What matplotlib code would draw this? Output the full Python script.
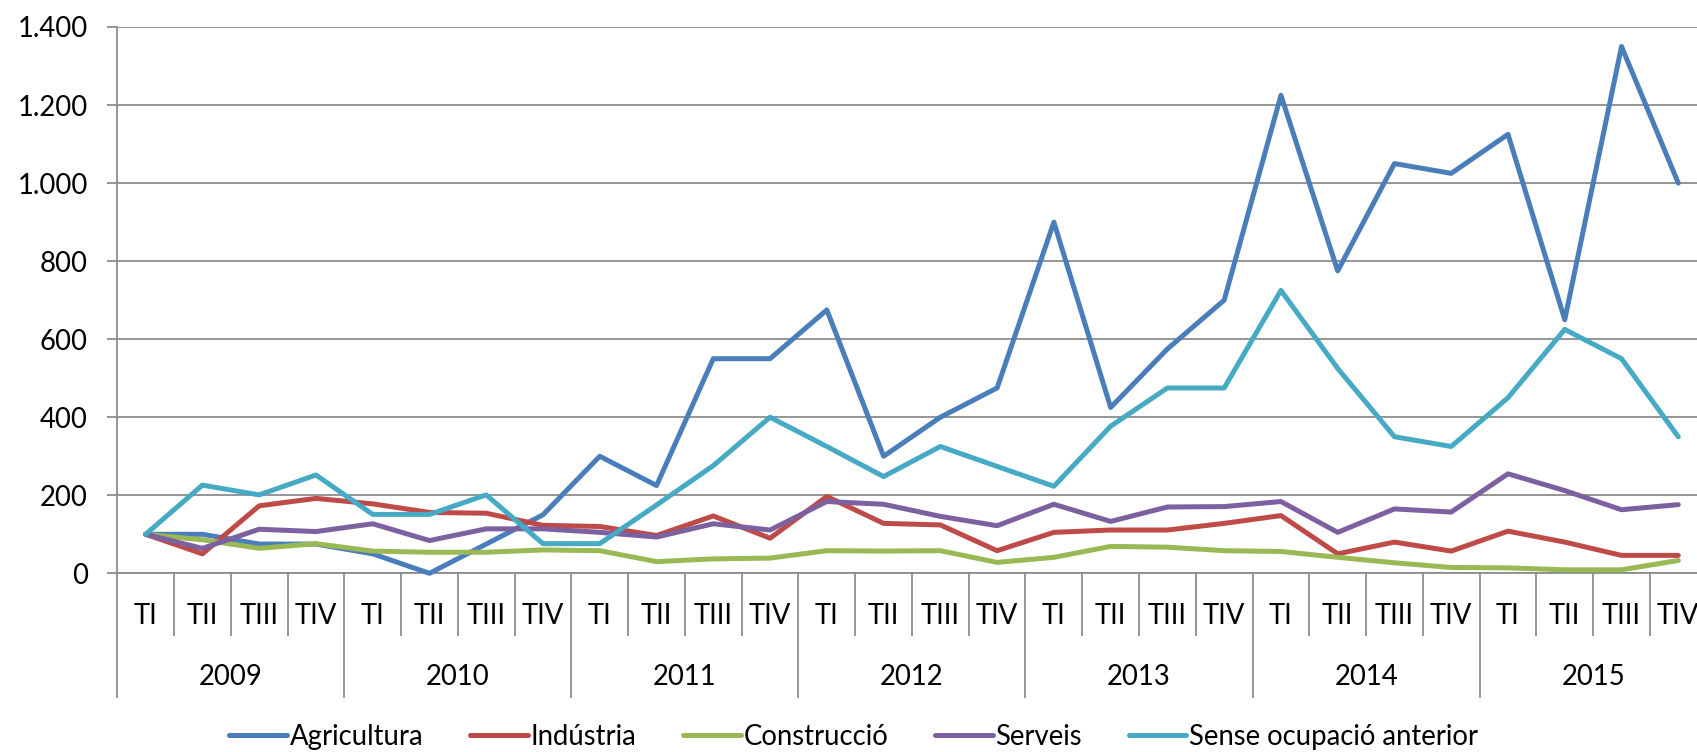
import numpy as np
import matplotlib.pyplot as plt
import matplotlib.transforms as mtransforms
from matplotlib.ticker import FuncFormatter, MultipleLocator

plt.rcParams['font.family'] = ['Lato', 'DejaVu Sans']

years = ['2009', '2010', '2011', '2012', '2013', '2014', '2015']
quarters = ['TI', 'TII', 'TIII', 'TIV']

agricultura = [100, 100, 75, 75, 50, 0, 75, 150, 300, 225, 550, 550, 675, 300,
               400, 475, 900, 425, 575, 700, 1225, 775, 1050, 1025, 1125, 650, 1350, 1000]
industria = [100, 50, 173, 192, 178, 156, 154, 123, 120, 97, 147, 90, 197, 128,
             124, 58, 105, 111, 111, 128, 148, 50, 80, 57, 108, 80, 46, 46]
construccio = [100, 86, 64, 76, 57, 54, 54, 60, 58, 30, 37, 39, 58, 57,
               58, 28, 41, 69, 67, 58, 56, 41, 27, 15, 14, 9, 9, 33]
serveis = [100, 64, 113, 107, 127, 84, 114, 114, 105, 93, 127, 111, 184, 177,
           146, 122, 177, 133, 170, 171, 184, 105, 165, 157, 255, 212, 163, 176]
sense_ocupacio = [100, 226, 201, 252, 151, 151, 201, 76, 76, 175, 276, 400, 325, 248,
                  325, 274, 223, 377, 475, 475, 725, 525, 350, 325, 450, 625, 550, 350]

series = [
    ('Agricultura', agricultura, '#4a7ebb'),
    ('Indústria', industria, '#be4b48'),
    ('Construcció', construccio, '#98b954'),
    ('Serveis', serveis, '#7d60a0'),
    ('Sense ocupació anterior', sense_ocupacio, '#46aac5'),
]

grey = '#8c8c8c'
fs = 19.8

fig = plt.figure(figsize=(16.97, 7.52), dpi=100)
ax = fig.add_axes([0.0691, 0.2376, 0.9366, 0.7265])

n = len(years) * len(quarters)
x = np.arange(n)

for name, vals, col in series:
    ax.plot(x, vals, color=col, lw=3.6, label=name, solid_joinstyle='round',
            solid_capstyle='round', clip_on=False, zorder=3)

ax.set_xlim(-0.5, n - 0.5)
ax.set_ylim(0, 1400)
ax.yaxis.set_major_locator(MultipleLocator(200))
ax.yaxis.set_major_formatter(FuncFormatter(lambda v, p: f"{int(v):,}".replace(',', '.')))
ax.yaxis.grid(True, color=grey, lw=1.3)
ax.set_axisbelow(True)
ax.tick_params(axis='y', length=7.2, width=1.3, color=grey, pad=14, labelsize=fs)
ax.set_xticks([])

for s in ['top', 'right']:
    ax.spines[s].set_visible(False)
for s in ['left', 'bottom']:
    ax.spines[s].set_color(grey)
    ax.spines[s].set_linewidth(1.3)

# two-level category axis: quarters, then years
trans = mtransforms.blended_transform_factory(ax.transData, ax.transAxes)
short_sep, long_sep = -0.1135, -0.227
for b in np.arange(-0.5, n + 0.5):
    low = long_sep if int(b + 0.5) % 4 == 0 else short_sep
    ax.plot([b, b], [0, low], transform=trans, color=grey, lw=1.3, clip_on=False)

for i in range(n):
    ax.text(i, -0.078, quarters[i % 4], transform=trans, ha='center', va='center', fontsize=fs)
for k, yr in enumerate(years):
    ax.text(4 * k + 1.5, -0.19, yr, transform=trans, ha='center', va='center', fontsize=fs)

fig.legend(loc='center', bbox_to_anchor=(0.503, 0.02), ncol=5, frameon=False, fontsize=fs,
           handlelength=2.1, handletextpad=0.1, columnspacing=1.7)

fig.savefig('out.png', dpi=100)
